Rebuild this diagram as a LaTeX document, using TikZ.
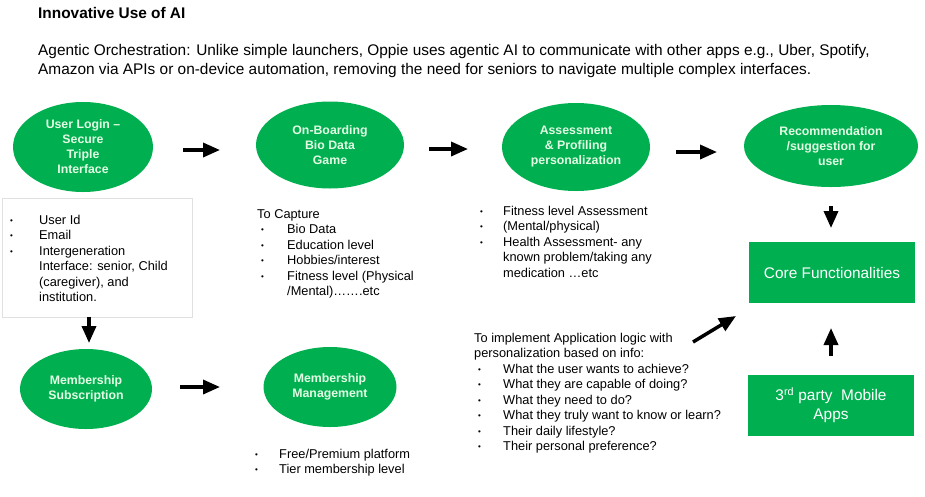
\documentclass[tikz,border=0pt]{standalone}
\usepackage{fontspec}
\setmainfont{Liberation Sans}
\usetikzlibrary{shapes.geometric,arrows.meta}
\definecolor{ogreen}{RGB}{0,176,80}
\definecolor{paletxt}{RGB}{228,252,228}
\newcommand{\bul}{\raisebox{1pt}{\fontsize{8}{8}\selectfont\textbullet}}
\begin{document}
\begin{tikzpicture}[x=1pt,y=-1pt,
  oval/.style={ellipse,fill=ogreen,draw=none,inner sep=0pt,text=paletxt,
    font=\fontsize{12.3}{15}\selectfont\bfseries,align=center},
  gbox/.style={rectangle,fill=ogreen,draw=none,inner sep=0pt,text=white,
    font=\fontsize{15.4}{19}\selectfont,align=center,minimum width=166pt,minimum height=61pt},
  listtxt/.style={anchor=base west,inner sep=0pt,font=\fontsize{12.8}{15.5}\selectfont,align=left},
  headtxt/.style={anchor=base west,inner sep=0pt,align=left},
  flow/.style={line width=3.5pt,-{Triangle[length=17pt,width=14pt]}}]
\useasboundingbox[fill=white] (0,0) rectangle (925,496);

% header (base anchor of a multi-line node = last line's baseline)
\node[headtxt,font=\fontsize{15.4}{19}\selectfont\bfseries] (title) at (38,18.3) {Innovative Use of AI};
\node[headtxt,font=\fontsize{15.4}{18.5}\selectfont] (intro) at (38,74)
  {Agentic Orchestration: Unlike simple launchers, Oppie uses agentic AI to communicate with other apps e.g., Uber, Spotify,\\
   Amazon via APIs or on-device automation, removing the need for seniors to navigate multiple complex interfaces.};

% ellipses
\node[oval,minimum width=140pt,minimum height=90pt] (login) at (83,147) {User Login --\\Secure\\Triple\\Interface};
\node[oval,minimum width=148pt,minimum height=87pt] (onboard) at (330,145) {On-Boarding\\Bio Data\\Game};
\node[oval,minimum width=148pt,minimum height=88pt] (assess) at (576,147) {Assessment\\\& Profiling\\personalization};
\node[oval,minimum width=174pt,minimum height=82pt] (recom) at (831,146) {Recommendation\\/suggestion for\\user};
\node[oval,minimum width=132pt,minimum height=80pt] (msub) at (86,389) {Membership\\Subscription};
\node[oval,minimum width=133pt,minimum height=80pt] (mmgmt) at (330,387) {Membership\\Management};

% green boxes
\node[gbox] (core) at (832,272.5) {Core Functionalities};
\node[gbox] (third) at (831,405.5) {3\textsuperscript{rd} party\ \ Mobile\\Apps};

% login details box
\node[draw=black!12,line width=1pt,minimum width=190pt,minimum height=119pt,inner sep=0pt] (loginbox) at (97,257.5) {};
\node[listtxt] (loginlist) at (10,224) {\begin{tabular}[t]{@{}p{29pt}@{}l@{}}
\bul & User Id\\
\bul & Email\\
\bul & Intergeneration\\
 & Interface: senior, Child\\
 & (caregiver), and\\
 & institution.
\end{tabular}};

% onboarding details
\node[listtxt] (capture) at (257,218) {To Capture};
\node[listtxt] (onlist) at (261,233.5) {\begin{tabular}[t]{@{}p{26pt}@{}l@{}}
\bul & Bio Data\\
\bul & Education level\\
\bul & Hobbies/interest\\
\bul & Fitness level (Physical\\
 & /Mental)\dots\dots.etc
\end{tabular}};

% assessment details
\node[listtxt] (asslist) at (480,215) {\begin{tabular}[t]{@{}p{23pt}@{}l@{}}
\bul & Fitness level Assessment\\
\bul & (Mental/physical)\\
\bul & Health Assessment- any\\
 & known problem/taking any\\
 & medication \dots etc
\end{tabular}};

% application logic
\node[listtxt] (logic) at (474,357.5) {To implement Application logic with\\personalization based on info:};
\node[listtxt] (logiclist) at (478,373) {\begin{tabular}[t]{@{}p{25pt}@{}l@{}}
\bul & What the user wants to achieve?\\
\bul & What they are capable of doing?\\
\bul & What they need to do?\\
\bul & What they truly want to know or learn?\\
\bul & Their daily lifestyle?\\
\bul & Their personal preference?
\end{tabular}};

% membership details
\node[listtxt] (memlist) at (255,458) {\begin{tabular}[t]{@{}p{24pt}@{}l@{}}
\bul & Free/Premium platform\\
\bul & Tier membership level
\end{tabular}};

% arrow end points
\coordinate (a1s) at (183,150); \coordinate (a1e) at (220,150);
\coordinate (a2s) at (429,149); \coordinate (a2e) at (468,149);
\coordinate (a3s) at (676,152); \coordinate (a3e) at (717,152);
\coordinate (a4s) at (831,206); \coordinate (a4e) at (831,228);
\coordinate (a5s) at (89,317);  \coordinate (a5e) at (89,343);
\coordinate (a6s) at (180,387); \coordinate (a6e) at (220,387);
\coordinate (a7s) at (693,342); \coordinate (a7e) at (736,316);
\coordinate (a8s) at (831,356); \coordinate (a8e) at (831,328);

\draw[flow] (a1s) -- (a1e);
\draw[flow] (a2s) -- (a2e);
\draw[flow] (a3s) -- (a3e);
\draw[flow] (a4s) -- (a4e);
\draw[flow] (a5s) -- (a5e);
\draw[flow] (a6s) -- (a6e);
\draw[flow] (a7s) -- (a7e);
\draw[flow] (a8s) -- (a8e);
\end{tikzpicture}
\end{document}
